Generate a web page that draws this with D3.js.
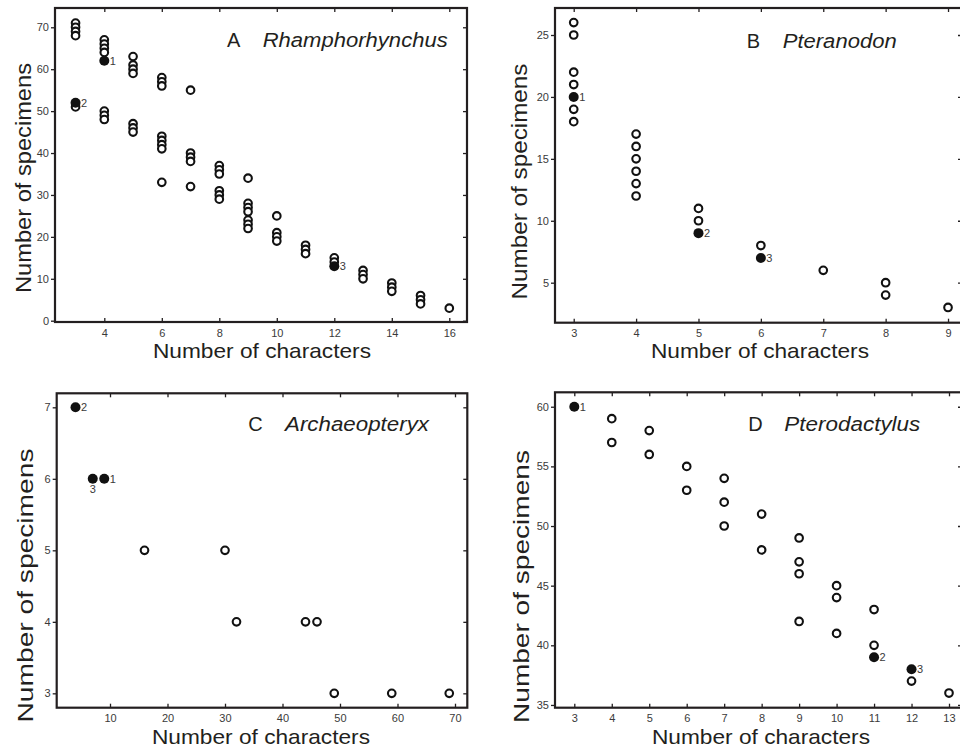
<!DOCTYPE html>
<html><head><meta charset="utf-8">
<script src="https://cdn.jsdelivr.net/npm/d3@7"></script>
<style>body{margin:0;background:#fff}svg{display:block}</style>
</head><body><svg id="chart" width="960" height="750"></svg>
<script>
// ---------- data ----------
const panelA_open = [[3,71],[3,70],[3,69],[3,68],[3,51],
  [4,67],[4,66],[4,65],[4,64],[4,50],[4,49],[4,48],
  [5,63],[5,61],[5,60],[5,59],[5,47],[5,46],[5,45],
  [6,58],[6,57],[6,56],[6,44],[6,43],[6,42],[6,41],[6,33],
  [7,55],[7,40],[7,39],[7,38],[7,32],
  [8,37],[8,36],[8,35],[8,31],[8,30],[8,29],
  [9,34],[9,28],[9,27],[9,26],[9,24],[9,23],[9,22],
  [10,25],[10,21],[10,20],[10,19],
  [11,18],[11,17],[11,16],
  [12,15],[12,14],
  [13,12],[13,11],[13,10],
  [14,9],[14,8],[14,7],
  [15,6],[15,5],[15,4],
  [16,3]];
const panelA_filled = [[4,62,"1"],[3,52,"2"],[12,13,"3"]];
const panelA_xticks = [4,6,8,10,12,14,16];
const panelA_yticks = [0,10,20,30,40,50,60,70];

const panelB_open = [[3,26],[3,25],[3,22],[3,21],[3,19],[3,18],
  [4,17],[4,16],[4,15],[4,14],[4,13],[4,12],
  [5,11],[5,10],[6,8],[7,6],[8,5],[8,4],[9,3]];
const panelB_filled = [[3,20,"1"],[5,9,"2"],[6,7,"3"]];
const panelB_xticks = [3,4,5,6,7,8,9];
const panelB_yticks = [5,10,15,20,25];

const panelC_open = [[16,5],[30,5],[32,4],[44,4],[46,4],[49,3],[59,3],[69,3]];
const panelC_filled = [[9,6,"1"],[4,7,"2"],[7,6,"3"]];
const panelC_xticks = [10,20,30,40,50,60,70];
const panelC_yticks = [3,4,5,6,7];

const panelD_open = [[4,59],[4,57],[5,58],[5,56],[6,55],[6,53],
  [7,54],[7,52],[7,50],[8,51],[8,48],[9,49],[9,47],[9,46],[9,42],
  [10,45],[10,44],[10,41],[11,43],[11,40],[12,37],[13,36]];
const panelD_filled = [[3,60,"1"],[11,39,"2"],[12,38,"3"]];
const panelD_xticks = [3,4,5,6,7,8,9,10,11,12,13];
const panelD_yticks = [35,40,45,50,55,60];

const panelLetters = ["A","B","C","D"];
const panelSpecies = ["Rhamphorhynchus","Pteranodon","Archaeopteryx","Pterodactylus"];
const xTitle = "Number of characters";
const yTitle = "Number of specimens";

// ---------- layout ----------
const FONT = "'Liberation Sans', Arial, Helvetica, sans-serif";
const INK = "#231f20";
const panels = [
  {open:panelA_open, filled:panelA_filled, xt:panelA_xticks, yt:panelA_yticks,
   xd:[2.285,16.616], yd:[-0.31,74.6], box:[55,8,467,322],
   letterX:227, spX:262.7, titleY:47, spLen:185,
   xtC:262, xtY:358, ytX:31, ytC:178, ytLen:230, labelBelow:{}},
  {open:panelB_open, filled:panelB_filled, xt:panelB_xticks, yt:panelB_yticks,
   xd:[2.70,9.224], yd:[1.77,27.18], box:[555,8,962,322.7],
   letterX:746.7, spX:782.7, titleY:48, spLen:114,
   xtC:760, xtY:358, ytX:527, ytC:181.5, ytLen:236, labelBelow:{}},
  {open:panelC_open, filled:panelC_filled, xt:panelC_xticks, yt:panelC_yticks,
   xd:[0.73,72.14], yd:[2.799,7.196], box:[56.7,393.3,467.3,707.7],
   letterX:248.3, spX:285, titleY:431, spLen:144,
   xtC:261, xtY:744, ytX:33, ytC:585.5, ytLen:274, labelBelow:{"3":true}},
  {open:panelD_open, filled:panelD_filled, xt:panelD_xticks, yt:panelD_yticks,
   xd:[2.485,13.347], yd:[34.77,61.21], box:[555,392.3,962,707.7],
   letterX:748.3, spX:784.3, titleY:431, spLen:136,
   xtC:761, xtY:744, ytX:529, ytC:586.5, ytLen:273, labelBelow:{}}
];

const svg = d3.select("#chart");

panels.forEach((p, i) => {
  const [x0,y0,x1,y1] = p.box;
  const x = d3.scaleLinear().domain(p.xd).range([x0,x1]);
  const y = d3.scaleLinear().domain(p.yd).range([y1,y0]);
  const g = svg.append("g");

  const tickStyle = sel => {
    sel.select(".domain").remove();
    sel.selectAll(".tick line").attr("stroke", INK).attr("stroke-width", 1.3);
    sel.selectAll(".tick text").attr("fill", "#3a3a3a")
      .style("font-family", FONT).style("font-size", "11px");
  };
  g.append("g").attr("transform", `translate(0,${y1})`)
    .call(d3.axisBottom(x).tickValues(p.xt).tickSizeInner(-4).tickSizeOuter(0).tickPadding(7).tickFormat(d3.format("d")))
    .call(tickStyle);
  g.append("g").attr("transform", `translate(${x0},0)`)
    .call(d3.axisLeft(y).tickValues(p.yt).tickSizeInner(4).tickSizeOuter(0).tickPadding(2).tickFormat(d3.format("d")))
    .call(tickStyle);
  g.append("g").attr("transform", `translate(0,${y0})`)
    .call(d3.axisTop(x).tickValues(p.xt).tickSizeInner(-4).tickSizeOuter(0).tickFormat(""))
    .call(tickStyle);
  g.append("g").attr("transform", `translate(${x1},0)`)
    .call(d3.axisRight(y).tickValues(p.yt).tickSizeInner(-4).tickSizeOuter(0).tickFormat(""))
    .call(tickStyle);

  g.append("rect").attr("x", x0).attr("y", y0).attr("width", x1-x0).attr("height", y1-y0)
    .attr("fill", "none").attr("stroke", INK).attr("stroke-width", 2.2);

  g.append("g").selectAll("circle").data(p.open).join("circle")
    .attr("cx", d => x(d[0])).attr("cy", d => y(d[1])).attr("r", 3.8)
    .attr("fill", "#fff").attr("stroke", "#111").attr("stroke-width", 2.1);

  g.append("g").selectAll("circle").data(p.filled).join("circle")
    .attr("cx", d => x(d[0])).attr("cy", d => y(d[1])).attr("r", 5)
    .attr("fill", "#111");

  g.append("g").selectAll("text").data(p.filled).join("text")
    .attr("x", d => p.labelBelow[d[2]] ? x(d[0]) : x(d[0]) + 5.5)
    .attr("y", d => p.labelBelow[d[2]] ? y(d[1]) + 14 : y(d[1]) + 4)
    .attr("text-anchor", d => p.labelBelow[d[2]] ? "middle" : "start")
    .attr("fill", "#3a3a3a").style("font-family", FONT).style("font-size", "11px")
    .text(d => d[2]);

  g.append("text").attr("x", p.letterX).attr("y", p.titleY)
    .attr("fill", "#231f20").style("font-family", FONT).style("font-size", "20px")
    .text(panelLetters[i]);
  g.append("text").attr("x", p.spX).attr("y", p.titleY)
    .attr("fill", "#231f20").style("font-family", FONT).style("font-size", "20px")
    .style("font-style", "italic")
    .attr("textLength", p.spLen).attr("lengthAdjust", "spacingAndGlyphs")
    .text(panelSpecies[i]);

  g.append("text").attr("x", p.xtC).attr("y", p.xtY).attr("text-anchor", "middle")
    .attr("fill", "#231f20").style("font-family", FONT).style("font-size", "21px")
    .attr("textLength", 218).attr("lengthAdjust", "spacingAndGlyphs")
    .text(xTitle);
  g.append("text").attr("transform", `translate(${p.ytX},${p.ytC}) rotate(-90)`)
    .attr("text-anchor", "middle")
    .attr("fill", "#231f20").style("font-family", FONT).style("font-size", "22px")
    .attr("textLength", p.ytLen).attr("lengthAdjust", "spacingAndGlyphs")
    .text(yTitle);
});
</script>
</body></html>
